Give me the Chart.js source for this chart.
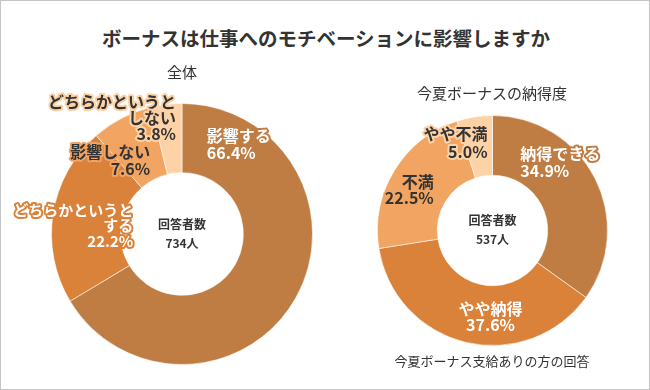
<!DOCTYPE html>
<html>
<head>
<meta charset="utf-8">
<script src="https://cdn.jsdelivr.net/npm/chart.js@4"></script>
<style>
  html, body { margin: 0; padding: 0; background: #fff; }
  body { font-family: "Noto Sans CJK JP", "Noto Sans", sans-serif; color: #333; }
  #frame { position: relative; width: 648px; height: 388px; border: 1px solid #c4c4c4; overflow: hidden; }
  .txt { position: absolute; white-space: nowrap; transform: translateX(-50%); line-height: 1; }
  #title { left: 325px; top: 27px; font-size: 19.5px; font-weight: bold; color: #333; }
  #sub1 { left: 181px; top: 63px; font-size: 15px; color: #333; }
  #sub2 { left: 491px; top: 84px; font-size: 15px; color: #333; }
  #note { left: 491px; top: 353px; font-size: 13px; color: #333; }
  .box { position: absolute; }
</style>
</head>
<body>
<div id="frame">
  <div class="box" style="left:-1px;top:59px;width:330px;height:320px"><canvas id="all" width="330" height="320"></canvas></div>
  <div class="box" style="left:329px;top:59px;width:320px;height:330px"><canvas id="summer" width="320" height="330"></canvas></div>
  <div id="title" class="txt">ボーナスは仕事へのモチベーションに影響しますか</div>
  <div id="sub1" class="txt">全体</div>
  <div id="sub2" class="txt">今夏ボーナスの納得度</div>
  <div id="note" class="txt">今夏ボーナス支給ありの方の回答</div>
</div>
<script>
// 全体
const allLabels = ['影響する', 'どちらかというとする', '影響しない', 'どちらかというとしない'];
const allValues = [66.4, 22.2, 7.6, 3.8];
const allRespondents = 734;

// 今夏ボーナスの納得度
const summerLabels = ['納得できる', 'やや納得', '不満', 'やや不満'];
const summerValues = [34.9, 37.6, 22.5, 5.0];
const summerRespondents = 537;

const colors = ['#bf7d43', '#db823a', '#f2a462', '#fdd2a6'];
const textColors = ['#fff', '#fff', '#333', '#333'];

const FONT = '"Noto Sans CJK JP", "Noto Sans", sans-serif';

// split long labels the way the original wraps them
const wrap = (label) => {
  const head = 'どちらかというと';
  if (label.startsWith(head) && label.length > head.length) return [head, label.slice(head.length)];
  return [label];
};

const sliceLabels = {
  id: 'sliceLabels',
  afterDatasetsDraw(chart, args, opts) {
    const ctx = chart.ctx;
    const meta = chart.getDatasetMeta(0);
    const values = chart.data.datasets[0].data;
    ctx.save();
    ctx.textBaseline = 'middle';
    ctx.lineJoin = 'round';
    meta.data.forEach((arc, i) => {
      const p = opts.place[i];
      const R = arc.outerRadius;
      const x = arc.x + p.dx * R;
      let y = arc.y + p.dy * R;
      const lines = wrap(chart.data.labels[i]).concat([values[i].toFixed(1) + '%']);
      ctx.font = 'bold ' + (p.size || 16) + 'px ' + FONT;
      ctx.textAlign = p.align;
      lines.forEach(line => {
        ctx.strokeStyle = colors[i];
        ctx.lineWidth = 4;
        ctx.strokeText(line, x, y);
        ctx.fillStyle = textColors[i];
        ctx.fillText(line, x, y);
        y += p.lh;
      });
    });
    ctx.restore();
  }
};

const centerText = {
  id: 'centerText',
  afterDraw(chart, args, opts) {
    const arc = chart.getDatasetMeta(0).data[0];
    const ctx = chart.ctx;
    ctx.save();
    ctx.font = 'bold 12px ' + FONT;
    ctx.fillStyle = '#333';
    ctx.textAlign = 'center';
    ctx.textBaseline = 'middle';
    ctx.fillText('回答者数', arc.x, arc.y - 10);
    ctx.fillText(opts.count + '人', arc.x, arc.y + 9);
    ctx.restore();
  }
};

const makeDonut = (id, labels, values, count, cutout, padding, place) => new Chart(document.getElementById(id), {
  type: 'doughnut',
  data: {
    labels: labels,
    datasets: [{
      data: values,
      backgroundColor: colors,
      borderColor: 'rgba(255,255,255,0.55)',
      borderWidth: 1
    }]
  },
  options: {
    responsive: false,
    animation: false,
    cutout: cutout,
    layout: { padding: padding },
    plugins: {
      legend: { display: false },
      tooltip: { enabled: false },
      sliceLabels: { place: place },
      centerText: { count: count }
    }
  },
  plugins: [sliceLabels, centerText]
});

makeDonut('all', allLabels, allValues, allRespondents, '47%',
  { left: 51, right: 17, top: 43, bottom: 15 },
  [
    { dx: 0.19, dy: -0.75, align: 'left', lh: 17 },
    { dx: -0.374, dy: -0.183, align: 'right', lh: 15.5, size: 15 },
    { dx: -0.244, dy: -0.626, align: 'right', lh: 17 },
    { dx: -0.046, dy: -1.015, align: 'right', lh: 16 }
  ]);

makeDonut('summer', summerLabels, summerValues, summerRespondents, '48%',
  { left: 47, right: 42, top: 55, bottom: 44 },
  [
    { dx: 0.242, dy: -0.662, align: 'left', lh: 17 },
    { dx: -0.017, dy: 0.68, align: 'center', lh: 16 },
    { dx: -0.511, dy: -0.42, align: 'right', lh: 16 },
    { dx: -0.043, dy: -0.844, align: 'right', lh: 18 }
  ]);
</script>
</body>
</html>
